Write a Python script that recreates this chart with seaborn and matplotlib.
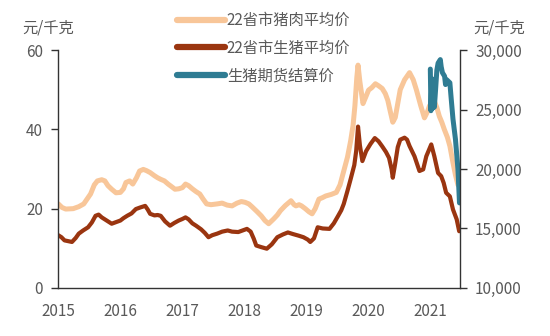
import matplotlib
matplotlib.use("Agg")
import matplotlib.pyplot as plt
import seaborn as sns
import pandas as pd
from matplotlib.ticker import FuncFormatter, FixedLocator

# ---- data (fractional years) ----
pork_t = [2015.00, 2015.06, 2015.12, 2015.24, 2015.33, 2015.41, 2015.52, 2015.58, 2015.63, 2015.70,
          2015.75, 2015.80, 2015.86, 2015.93, 2016.00, 2016.05, 2016.09, 2016.15, 2016.20, 2016.26,
          2016.31, 2016.37, 2016.42, 2016.48, 2016.55, 2016.60, 2016.65, 2016.71, 2016.77, 2016.83,
          2016.88, 2016.94, 2017.00, 2017.05, 2017.10, 2017.16, 2017.22, 2017.28, 2017.33, 2017.39,
          2017.46, 2017.56, 2017.64, 2017.72, 2017.80, 2017.88, 2017.95, 2018.01, 2018.07, 2018.12,
          2018.20, 2018.27, 2018.33, 2018.39, 2018.43, 2018.47, 2018.53, 2018.58, 2018.66, 2018.75,
          2018.80, 2018.83, 2018.88, 2018.92, 2018.98, 2019.04, 2019.09, 2019.14, 2019.20, 2019.26,
          2019.31, 2019.40, 2019.48, 2019.54, 2019.60, 2019.66, 2019.71, 2019.75, 2019.78, 2019.81,
          2019.83, 2019.86, 2019.91, 2019.95, 2020.00, 2020.05, 2020.11, 2020.16, 2020.22, 2020.27,
          2020.31, 2020.35, 2020.39, 2020.43, 2020.47, 2020.51, 2020.58, 2020.66, 2020.72, 2020.77,
          2020.84, 2020.90, 2020.95, 2020.98, 2021.03, 2021.06, 2021.10, 2021.14, 2021.18, 2021.22,
          2021.27, 2021.31, 2021.36, 2021.40, 2021.44]
pork_v = [21.2, 20.3, 19.9, 20.0, 20.5, 21.2, 23.7, 26.0, 27.0, 27.3,
          27.0, 25.8, 24.9, 24.0, 24.1, 25.0, 26.6, 27.0, 26.2, 27.8,
          29.5, 29.9, 29.6, 29.1, 28.3, 27.8, 27.4, 27.0, 26.2, 25.5,
          24.9, 25.0, 25.3, 26.2, 25.8, 25.0, 24.3, 23.7, 22.5, 21.2,
          21.0, 21.2, 21.4, 20.9, 20.7, 21.4, 21.8, 21.6, 21.2, 20.5,
          19.3, 18.2, 17.0, 16.2, 16.8, 17.4, 18.4, 19.5, 20.8, 22.0,
          21.0, 20.7, 21.0, 20.7, 20.0, 19.2, 18.7, 20.0, 22.4, 22.8,
          23.2, 23.6, 24.1, 26.0, 29.5, 33.0, 37.0, 41.0, 46.0, 53.0,
          56.2, 52.0, 46.5, 48.0, 49.9, 50.5, 51.5, 51.0, 50.3, 49.0,
          47.3, 44.5, 41.8, 43.0, 46.5, 50.0, 52.5, 54.3, 52.5, 50.0,
          46.0, 42.9, 44.5, 45.9, 47.0, 47.1, 45.5, 43.3, 41.8, 40.0,
          38.0, 35.8, 31.6, 28.5, 26.0]

hog_t = [2015.00, 2015.05, 2015.10, 2015.16, 2015.22, 2015.28, 2015.33, 2015.40, 2015.48, 2015.54,
         2015.60, 2015.65, 2015.70, 2015.78, 2015.86, 2015.93, 2016.00, 2016.05, 2016.11, 2016.18,
         2016.25, 2016.32, 2016.40, 2016.44, 2016.48, 2016.55, 2016.60, 2016.65, 2016.72, 2016.80,
         2016.87, 2016.94, 2017.00, 2017.05, 2017.10, 2017.16, 2017.22, 2017.30, 2017.36, 2017.42,
         2017.48, 2017.56, 2017.64, 2017.73, 2017.80, 2017.90, 2017.97, 2018.04, 2018.10, 2018.15,
         2018.19, 2018.27, 2018.36, 2018.44, 2018.53, 2018.62, 2018.70, 2018.78, 2018.87, 2018.95,
         2019.02, 2019.06, 2019.12, 2019.18, 2019.26, 2019.37, 2019.44, 2019.51, 2019.56, 2019.60,
         2019.66, 2019.71, 2019.77, 2019.80, 2019.83, 2019.86, 2019.90, 2019.96, 2020.03, 2020.10,
         2020.16, 2020.22, 2020.28, 2020.33, 2020.37, 2020.39, 2020.43, 2020.47, 2020.51, 2020.58,
         2020.62, 2020.66, 2020.74, 2020.82, 2020.88, 2020.93, 2021.01, 2021.06, 2021.12, 2021.17,
         2021.21, 2021.25, 2021.31, 2021.36, 2021.42, 2021.46]
hog_v = [13.3, 12.8, 12.0, 11.8, 11.6, 12.6, 13.7, 14.5, 15.3, 16.5,
         18.2, 18.5, 17.8, 17.0, 16.2, 16.6, 17.0, 17.6, 18.2, 18.8,
         19.9, 20.3, 20.7, 19.8, 18.7, 18.3, 18.4, 18.2, 16.8, 15.7,
         16.4, 17.0, 17.4, 17.8, 17.3, 16.3, 15.7, 14.8, 13.9, 12.8,
         13.3, 13.7, 14.2, 14.5, 14.2, 14.1, 14.5, 14.9, 14.2, 12.4,
         10.7, 10.3, 9.9, 11.0, 12.8, 13.5, 14.0, 13.6, 13.2, 12.8,
         12.2, 11.6, 12.5, 15.3, 15.0, 14.9, 16.3, 18.2, 19.6, 21.2,
         24.5, 27.4, 31.0, 34.5, 40.7, 36.0, 32.0, 34.5, 36.3, 37.8,
         37.0, 35.7, 34.3, 32.8, 30.0, 27.8, 31.5, 35.5, 37.4, 37.9,
         37.4, 35.8, 33.2, 29.5, 29.9, 33.2, 36.2, 33.2, 29.0, 28.2,
         26.5, 24.0, 23.1, 19.8, 17.3, 14.3]

fut_t = [2020.995, 2021.005, 2021.02, 2021.03, 2021.04, 2021.06, 2021.08, 2021.10, 2021.12, 2021.156,
         2021.17, 2021.19, 2021.225, 2021.24, 2021.26, 2021.31, 2021.33, 2021.36, 2021.40, 2021.44,
         2021.465]
fut_v = [28400, 24900, 27600, 25100, 27500, 25200, 26700, 28300, 28900, 29200,
         28600, 28100, 27800, 27100, 27500, 27250, 26000, 24200, 22500, 20000,
         17150]

labels = ["22省市猪肉平均价", "22省市生猪平均价", "生猪期货结算价"]
year_ticks = [2015, 2016, 2017, 2018, 2019, 2020, 2021]
left_ticks = [0, 20, 40, 60]
right_ticks = [10000, 15000, 20000, 25000, 30000]
unit = "元/千克"

c_pork = "#F8C699"
c_hog = "#9A3510"
c_fut = "#2F7C93"
c_text = "#595959"
c_axis = "#333333"

sns.set_theme(style="white")
plt.rcParams["font.family"] = ["Noto Sans CJK SC", "DejaVu Sans"]

fig = plt.figure(figsize=(5.5, 3.36), dpi=100)
ax = fig.add_axes([0.106, 0.143, 0.730, 0.708])
ax2 = ax.twinx()

df_pork = pd.DataFrame({"t": pork_t, "v": pork_v})
df_hog = pd.DataFrame({"t": hog_t, "v": hog_v})
df_fut = pd.DataFrame({"t": fut_t, "v": fut_v})

sns.lineplot(data=df_pork, x="t", y="v", ax=ax, color=c_pork, linewidth=3.6, label=labels[0], legend=False)
sns.lineplot(data=df_hog, x="t", y="v", ax=ax, color=c_hog, linewidth=3.0, label=labels[1], legend=False)
sns.lineplot(data=df_fut, x="t", y="v", ax=ax2, color=c_fut, linewidth=3.6, label=labels[2], legend=False)

ax.set_xlim(2015, 2021.47)
ax.set_ylim(0, 60)
ax2.set_ylim(10000, 30000)
ax.xaxis.set_major_locator(FixedLocator(year_ticks))
ax.set_xticklabels([str(y) for y in year_ticks])
ax.yaxis.set_major_locator(FixedLocator(left_ticks))
ax2.yaxis.set_major_locator(FixedLocator(right_ticks))
ax2.yaxis.set_major_formatter(FuncFormatter(lambda v, p: f"{int(v):,}"))
ax.set_xlabel("")
ax.set_ylabel("")
ax2.set_ylabel("")

for a in (ax, ax2):
    a.spines["top"].set_visible(False)
    for s in ("left", "right", "bottom"):
        a.spines[s].set_color(c_axis)
        a.spines[s].set_linewidth(1.0)
    a.tick_params(colors=c_axis, labelcolor=c_text, labelsize=11, length=5, width=1.0, pad=6, direction="out")
    a.grid(False)
ax.spines["right"].set_visible(False)
ax2.spines["left"].set_visible(False)
ax2.spines["bottom"].set_visible(False)
ax.tick_params(axis="x", pad=6)

fig.text(0.087, 0.918, unit, ha="center", va="center", fontsize=11, color=c_text)
fig.text(0.907, 0.918, unit, ha="center", va="center", fontsize=11, color=c_text)

h1, l1 = ax.get_legend_handles_labels()
h2, l2 = ax2.get_legend_handles_labels()
leg = fig.legend(h1 + h2, l1 + l2, loc="upper left", bbox_to_anchor=(0.314, 0.978),
                 frameon=False, fontsize=11, handlelength=3.1, handletextpad=0.15,
                 labelspacing=0.7, borderpad=0.3, borderaxespad=0)
for t in leg.get_texts():
    t.set_color(c_text)
for line in leg.get_lines():
    line.set_linewidth(4.5)

fig.savefig("out.png", dpi=100)
